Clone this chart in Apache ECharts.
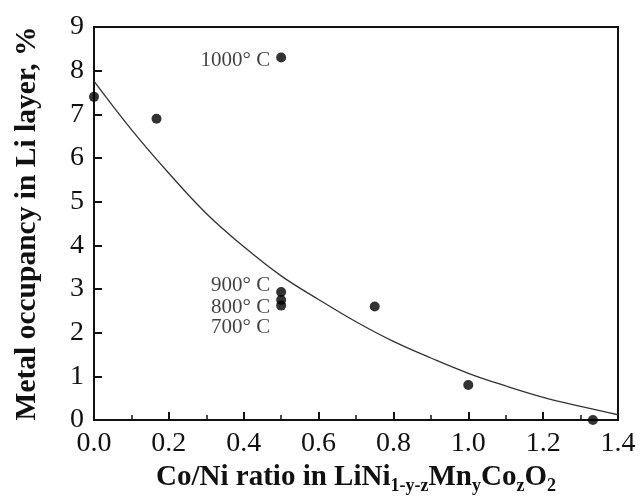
<!DOCTYPE html>
<html>
<head>
<meta charset="utf-8">
<script src="https://cdn.jsdelivr.net/npm/echarts@6/dist/echarts.min.js"></script>
<style>html,body{margin:0;padding:0;background:#fff;}#c{width:640px;height:500px;}</style>
</head>
<body>
<div id="c"></div>
<script>
// Measured points: Co/Ni ratio vs metal occupancy (%)
const pointX = [0, 0.167, 0.5, 0.5, 0.5, 0.5, 0.75, 1.0, 1.333];
const pointY = [7.4, 6.9, 8.3, 2.93, 2.75, 2.62, 2.6, 0.8, 0.0];
const pointLabels = ['', '', '1000° C', '900° C', '800° C', '700° C', '', '', ''];
// Fitted curve
const curveX = [0, 0.1, 0.2, 0.3, 0.4, 0.5, 0.6, 0.7, 0.8, 0.9, 1.0, 1.1, 1.2, 1.3, 1.4];
const curveY = [7.76, 6.65, 5.65, 4.73, 3.97, 3.3, 2.76, 2.25, 1.8, 1.42, 1.07, 0.78, 0.52, 0.31, 0.12];
const xTicks = ['0.0', '0.2', '0.4', '0.6', '0.8', '1.0', '1.2', '1.4'];

const serif = '"Liberation Serif", "DejaVu Serif", serif';
const labelOffsets = {'1000° C': [0, 3], '900° C': [0, -7], '800° C': [0, 8], '700° C': [0, 22]};

const scatterData = pointX.map((x, i) => {
  const d = {value: [x, pointY[i]]};
  const t = pointLabels[i];
  if (t) {
    d.label = {show: true, position: 'left', distance: 6, formatter: t,
      offset: labelOffsets[t], fontFamily: serif, fontSize: 21, color: '#111'};
  }
  return d;
});

const chart = echarts.init(document.getElementById('c'));
chart.setOption({
  backgroundColor: '#fff',
  animation: false,
  grid: {left: 94, right: 22, top: 27, bottom: 80, show: true, borderColor: '#111', borderWidth: 2, backgroundColor: 'transparent'},
  xAxis: {
    type: 'value', min: 0, max: 1.4, interval: 0.2,
    name: 'Co/Ni ratio in LiNi{s|1-y-z}Mn{s|y}Co{s|z}O{s|2}',
    nameLocation: 'middle', nameGap: 41,
    nameTextStyle: {fontFamily: serif, fontWeight: 'bold', fontSize: 29, color: '#111',
      rich: {s: {fontFamily: serif, fontWeight: 'bold', fontSize: 18, color: '#111', padding: [16, 0, 0, 0]}}},
    axisLine: {lineStyle: {color: '#111', width: 2}},
    axisTick: {inside: true, length: 8, lineStyle: {color: '#111', width: 2}},
    minorTick: {show: true, splitNumber: 2, length: 5, lineStyle: {color: '#111', width: 1.5}},
    axisLabel: {fontFamily: serif, fontSize: 28, color: '#111', margin: 10,
      formatter: v => xTicks[Math.round(v / 0.2)] || ''},
    splitLine: {show: false}
  },
  yAxis: {
    type: 'value', min: 0, max: 9, interval: 1,
    name: 'Metal occupancy in Li layer, %',
    nameLocation: 'middle', nameGap: 52,
    nameTextStyle: {fontFamily: serif, fontWeight: 'bold', fontSize: 29.5, color: '#111'},
    axisLine: {lineStyle: {color: '#111', width: 2}},
    axisTick: {inside: true, length: 8, lineStyle: {color: '#111', width: 2}},
    axisLabel: {fontFamily: serif, fontSize: 28, color: '#111', margin: 10},
    splitLine: {show: false}
  },
  series: [
    {type: 'line', data: curveX.map((x, i) => [x, curveY[i]]), smooth: 0.4,
      showSymbol: false, symbol: 'none', lineStyle: {color: '#333', width: 1.3}, z: 2},
    {type: 'scatter', data: scatterData, symbol: 'circle', symbolSize: 10, clip: false,
      itemStyle: {color: '#000'}, z: 3}
  ]
});
</script>
</body>
</html>
